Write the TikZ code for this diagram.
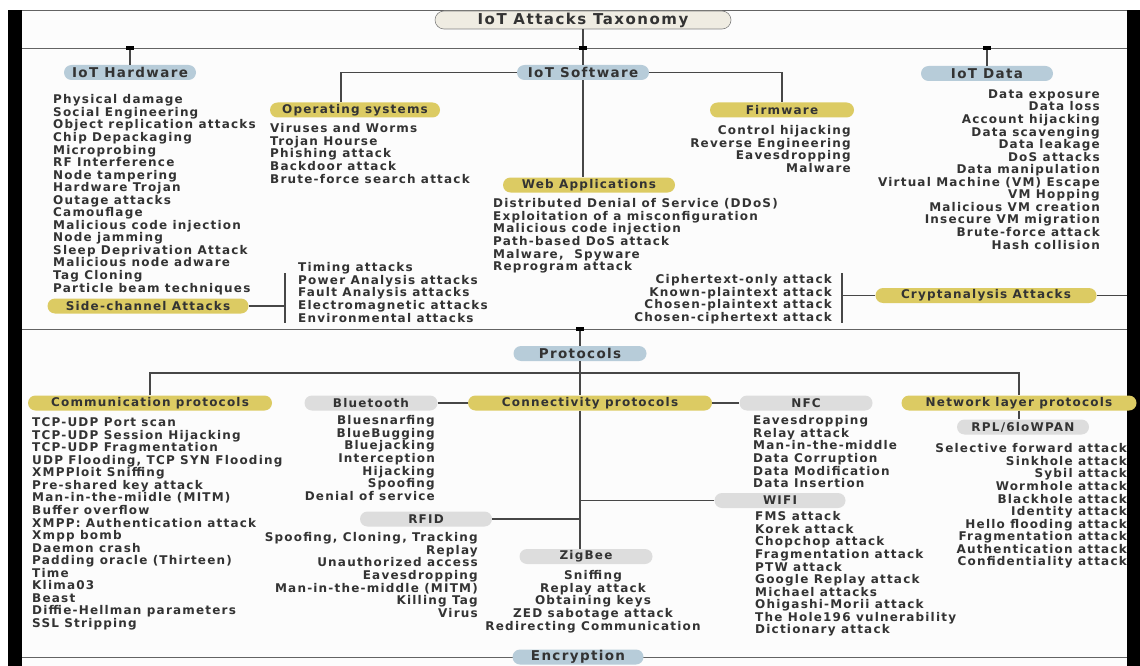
\documentclass[tikz,border=0pt]{standalone}
\usepackage{fontspec}
\setmainfont{DejaVu Sans}
\newfontfamily\taxfont{DejaVu Sans}[LetterSpace=10]
\usepackage{tikz}
\usetikzlibrary{positioning}
\definecolor{ink}{HTML}{333333}
\definecolor{wire}{HTML}{474747}
\definecolor{skyblue}{HTML}{B7CCD9}
\definecolor{mustard}{HTML}{DCCB63}
\definecolor{silver}{HTML}{DDDDDD}
\definecolor{cream}{HTML}{EFECE2}
\definecolor{paper}{HTML}{FCFCFC}

\begin{document}
\begin{tikzpicture}[x=1pt, y=-1pt,
  pill/.style={rounded corners=7.5pt, minimum height=15pt, inner sep=0pt, text=ink},
  topic/.style={pill, fill=skyblue, minimum width=132pt, font=\taxfont\bfseries\fontsize{13.5}{13.5}\selectfont},
  family/.style={pill, fill=mustard, font=\taxfont\bfseries\fontsize{12}{12}\selectfont},
  tech/.style={pill, fill=silver, minimum width=133pt, font=\taxfont\bfseries\fontsize{12}{12}\selectfont},
  items/.style={inner sep=0pt, text=ink, font=\taxfont\bfseries\fontsize{12}{12.55}\selectfont},
  itemsl/.style={items, align=left, anchor=north west},
  itemsr/.style={items, align=right, anchor=north east},
  itemsc/.style={items, align=center, anchor=north},
  tick/.style={fill=black, minimum width=8pt, minimum height=4pt, inner sep=0pt},
  link/.style={draw=wire, line width=1.4pt},
  rule/.style={draw=wire!85, line width=0.9pt}
]
  \useasboundingbox (0,0) rectangle (1140,666);
  % frame
  \fill[white] (0,0) rectangle (1140,666);
  \fill[paper] (22,10) rectangle (1127,666);
  \draw[rule] (22,10) -- (1127,10);
  \draw[rule] (22,48) -- (1127,48);
  \draw[rule] (22,329) -- (1127,329);
  \draw[rule] (22,657) -- (1127,657);
  \fill[black] (8,10) rectangle (22,666);
  \fill[black] (1127,10) rectangle (1140,666);

  % title and top level
  \node[pill, fill=cream, draw=gray, line width=0.6pt, minimum width=296pt, minimum height=18pt,
        rounded corners=9pt, font=\taxfont\bfseries\fontsize{15}{15}\selectfont] (title) at (583,20) {IoT Attacks Taxonomy};
  \node[tick] (hwtick) at (130,48) {};
  \node[tick] (swtick) at (583,48) {};
  \node[tick] (datatick) at (987,48) {};
  \node[topic] (hw) at (130,72.5) {IoT Hardware};
  \node[topic] (sw) at (583,72.5) {IoT Software};
  \node[topic] (data) at (987,73.5) {IoT Data};

  % hardware
  \node[itemsl] (hwlist) at (53,94.5) {Physical damage\\Social Engineering\\Object replication attacks\\Chip Depackaging\\Microprobing\\RF Interference\\Node tampering\\Hardware Trojan\\Outage attacks\\Camouflage\\Malicious code injection\\Node jamming\\Sleep Deprivation Attack\\Malicious node adware\\Tag Cloning\\Particle beam techniques};
  \node[family, minimum width=201pt] (sca) at (148,306) {Side-channel Attacks};
  \node[itemsl] (sclist) at (298,262.5) {Timing attacks\\Power Analysis attacks\\Fault Analysis attacks\\Electromagnetic attacks\\Environmental attacks};
  \coordinate (sctop) at (285,273);
  \coordinate (scbot) at (285,323);

  % software
  \node[family, minimum width=170pt] (os) at (355,110) {Operating systems};
  \node[itemsl] (oslist) at (270,123.5) {Viruses and Worms\\Trojan Hourse\\Phishing attack\\Backdoor attack\\Brute-force search attack};
  \node[family, minimum width=144pt] (fw) at (782,110) {Firmware};
  \node[itemsr] (fwlist) at (851,125.5) {Control hijacking\\Reverse Engineering\\Eavesdropping\\Malware};
  \node[family, minimum width=172pt] (web) at (589,185) {Web Applications};
  \node[itemsl] (weblist) at (493,198.5) {Distributed Denial of Service (DDoS)\\Exploitation of a misconfiguration\\Malicious code injection\\Path-based DoS attack\\Malware,~ Spyware\\Reprogram attack};

  % data
  \node[itemsr] (datalist) at (1100,89.5) {Data exposure\\Data loss\\Account hijacking\\Data scavenging\\Data leakage\\DoS attacks\\Data manipulation\\Virtual Machine (VM) Escape\\VM Hopping\\Malicious VM creation\\Insecure VM migration\\Brute-force attack\\Hash collision};
  \node[family, minimum width=221pt] (cra) at (986,295.5) {Cryptanalysis Attacks};
  \node[itemsr] (crlist) at (832,274.5) {Ciphertext-only attack\\Known-plaintext attack\\Chosen-plaintext attack\\Chosen-ciphertext attack};
  \coordinate (crtop) at (842,273);
  \coordinate (crbot) at (842,323);
  \coordinate (crend) at (1127,295.5);

  % protocols
  \node[tick] (prtick) at (580,329) {};
  \node[topic, minimum width=133pt] (prot) at (580,353.5) {Protocols};
  \coordinate (prbar) at (580,373);
  \node[family, minimum width=244pt] (comm) at (150,403) {Communication protocols};
  \node[itemsl] (commlist) at (32,417.5) {TCP-UDP Port scan\\TCP-UDP Session Hijacking\\TCP-UDP Fragmentation\\UDP Flooding, TCP SYN Flooding\\XMPPloit Sniffing\\Pre-shared key attack\\Man-in-the-miidle (MITM)\\Buffer overflow\\XMPP: Authentication attack\\Xmpp bomb\\Daemon crash\\Padding oracle (Thirteen)\\Time\\Klima03\\Beast\\Diffie-Hellman parameters\\SSL Stripping};
  \node[tech] (bt) at (371,403) {Bluetooth};
  \node[itemsr] (btlist) at (435,415.5) {Bluesnarfing\\BlueBugging\\Bluejacking\\Interception\\Hijacking\\Spoofing\\Denial of service};
  \node[family, minimum width=244pt] (conn) at (590,403) {Connectivity protocols};
  \node[tech] (nfc) at (806,403) {NFC};
  \node[itemsl] (nfclist) at (753,415.5) {Eavesdropping\\Relay attack\\Man-in-the-middle\\Data Corruption\\Data Modification\\Data Insertion};
  \node[tech, minimum width=131pt] (wifi) at (780,500.5) {WIFI};
  \node[itemsl] (wifilist) at (755,511.5) {FMS attack\\Korek attack\\Chopchop attack\\Fragmentation attack\\PTW attack\\Google Replay attack\\Michael attacks\\Ohigashi-Morii attack\\The Hole196 vulnerability\\Dictionary attack};
  \node[tech, minimum width=132pt] (rfid) at (426,519) {RFID};
  \node[itemsr] (rfidlist) at (478,532.5) {Spoofing, Cloning, Tracking\\Replay\\Unauthorized access\\Eavesdropping\\Man-in-the-middle (MITM)\\Killing Tag\\Virus};
  \node[tech] (zb) at (586,556.5) {ZigBee};
  \node[itemsc] (zblist) at (593,570.5) {Sniffing\\Replay attack\\Obtaining keys\\ZED sabotage attack\\Redirecting Communication};
  \node[family, minimum width=235pt] (net) at (1019,403) {Network layer protocols};
  \node[tech, minimum width=132pt] (rpl) at (1023,427) {RPL/6loWPAN};
  \node[itemsr] (rpllist) at (1127,443.5) {Selective forward attack\\Sinkhole attack\\Sybil attack\\Wormhole attack\\Blackhole attack\\Identity attack\\Hello flooding attack\\Fragmentation attack\\Authentication attack\\Confidentiality attack};
  \node[topic, minimum width=131pt] (enc) at (578,657) {Encryption};

  % connectors
  \draw[link] (title.south) -- (swtick.north);
  \draw[link] (swtick.south) -- (sw.north);
  \draw[link] (hwtick.south) -- (hw.north);
  \draw[link] (datatick.south) -- (data.north);
  \draw[link] (sw.west) -| ([xshift=-14pt]os.north);
  \draw[link] (sw.east) -| (fw.north);
  \draw[link] (sw.south) -- (sw.south |- web.north);
  \draw[link] (sctop) -- (scbot);
  \draw[link] (sca.east) -- (sca.east -| sctop);
  \draw[link] (crtop) -- (crbot);
  \draw[link] (cra.west) -- (cra.west -| crtop);
  \draw[link] (cra.east) -- (crend);
  \draw[link] (prtick.south) -- (prot.north);
  \draw[link] (prot.south) -- (prot.south |- conn.north);
  \draw[link] (conn.south -| prot) -- (prot |- zb.north);
  \draw[link] (comm.north) |- (prbar) -| (net.north);
  \draw[link] (net.south) -- (net.south |- rpl.north);
  \draw[link] (bt.east) -- (conn.west);
  \draw[link] (conn.east) -- (nfc.west);
  \draw[link] (wifi.west) -- (wifi.west -| prot);
  \draw[link] (rfid.east) -- (rfid.east -| prot);
\end{tikzpicture}
\end{document}
